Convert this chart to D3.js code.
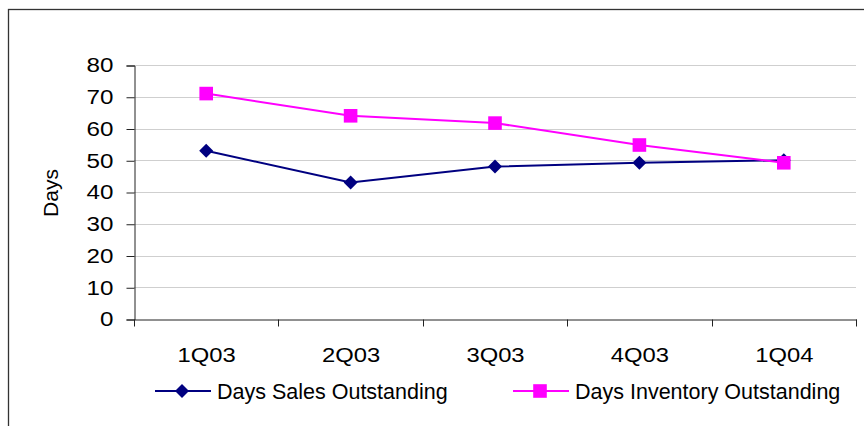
<!DOCTYPE html>
<html>
<head>
<meta charset="utf-8">
<script src="https://cdn.jsdelivr.net/npm/d3@7"></script>
<style>
  body { margin: 0; background: #fff; }
  svg { display: block; font-family: "Liberation Sans", Arial, sans-serif; }
</style>
</head>
<body>
<svg id="chart" width="864" height="426"></svg>
<script>
const quarters = ["1Q03", "2Q03", "3Q03", "4Q03", "1Q04"];
const salesOutstanding = [53, 43, 48, 49.2, 50];
const inventoryOutstanding = [71, 64, 61.7, 54.8, 49.2];
const yTicks = [0, 10, 20, 30, 40, 50, 60, 70, 80];

const svg = d3.select("#chart");
const FONT = "Liberation Sans, Arial, sans-serif";

/** stretch text horizontally to mimic the wider original glyphs */
const widen = (sel, factor) =>
  sel.each(function () {
    const w = this.getComputedTextLength();
    d3.select(this).attr("textLength", w * factor).attr("lengthAdjust", "spacingAndGlyphs");
  });

/** outer frame */
svg.append("rect")
  .attr("x", 8.5).attr("y", 9.5)
  .attr("width", 900).attr("height", 500)
  .attr("fill", "none").attr("stroke", "#333").attr("stroke-width", 1.3);

const x = d3.scaleBand().domain(quarters).range([134, 856]);
const y = d3.scaleLinear().domain([0, 80]).range([319, 65]);

/** grid */
svg.append("g")
  .selectAll("line")
  .data(yTicks.filter((d) => d > 0))
  .join("line")
  .attr("x1", 134).attr("x2", 856)
  .attr("y1", (d) => Math.round(y(d)) + 0.5)
  .attr("y2", (d) => Math.round(y(d)) + 0.5)
  .attr("stroke", "#cfcfcf");

/** y axis */
const yAxis = svg.append("g")
  .attr("transform", "translate(134.5,0.5)")
  .call(d3.axisLeft(y).tickValues(yTicks).tickSize(8).tickPadding(13));
yAxis.selectAll("text").attr("font-size", 19.5).attr("fill", "#000")
  .attr("font-family", FONT).call(widen, 1.24);

/** x axis */
const xAxis = svg.append("g")
  .attr("transform", "translate(0.5,319.5)")
  .call(d3.axisBottom(x).tickSize(0).tickPadding(28));
xAxis.selectAll("text").attr("font-size", 19.5).attr("fill", "#000")
  .attr("font-family", FONT).attr("dy", null).attr("y", 42.5).call(widen, 1.22);
xAxis.selectAll(".tick line").remove();
xAxis.append("g")
  .selectAll("line")
  .data([...quarters.map((q) => x(q)), x.range()[1]])
  .join("line")
  .attr("x1", (d) => Math.round(d)).attr("x2", (d) => Math.round(d))
  .attr("y1", 0).attr("y2", 7)
  .attr("stroke", "#222");

svg.selectAll(".domain").attr("stroke", "#222");
yAxis.selectAll(".tick line").attr("stroke", "#222");

/** axis title */
svg.append("text")
  .attr("transform", "translate(58,193) rotate(-90)")
  .attr("text-anchor", "middle")
  .attr("font-size", 21)
  .text("Days");

/** diamond as a square turned 45 degrees */
const diamond = {
  draw(ctx, size) {
    const r = Math.sqrt(size) / 2;
    ctx.moveTo(0, -r); ctx.lineTo(r, 0); ctx.lineTo(0, r); ctx.lineTo(-r, 0); ctx.closePath();
  },
};

const cx = (i) => x(quarters[i]) + x.bandwidth() / 2;
const line = d3.line().x((d, i) => cx(i)).y((d) => y(d));

const series = [
  { name: "Days Sales Outstanding", data: salesOutstanding, color: "#000080", marker: diamond, size: 196 },
  { name: "Days Inventory Outstanding", data: inventoryOutstanding, color: "#ff00ff", marker: d3.symbolSquare, size: 185 },
];

for (const s of series) {
  svg.append("path")
    .attr("d", line(s.data))
    .attr("fill", "none")
    .attr("stroke", s.color)
    .attr("stroke-width", 2);
  svg.append("g")
    .selectAll("path")
    .data(s.data)
    .join("path")
    .attr("transform", (d, i) => `translate(${cx(i)},${y(d)})`)
    .attr("d", d3.symbol(s.marker, s.size))
    .attr("fill", s.color);
}

/** legend */
const legendX = [155, 513];
series.forEach((s, i) => {
  const g = svg.append("g").attr("transform", `translate(${legendX[i]},391)`);
  g.append("line").attr("x1", 0).attr("x2", 56).attr("stroke", s.color).attr("stroke-width", 2);
  g.append("path").attr("transform", "translate(27,0)").attr("d", d3.symbol(s.marker, s.size)).attr("fill", s.color);
  g.append("text").attr("x", 62).attr("y", 8).attr("font-size", 21.5).text(s.name);
});
</script>
</body>
</html>
